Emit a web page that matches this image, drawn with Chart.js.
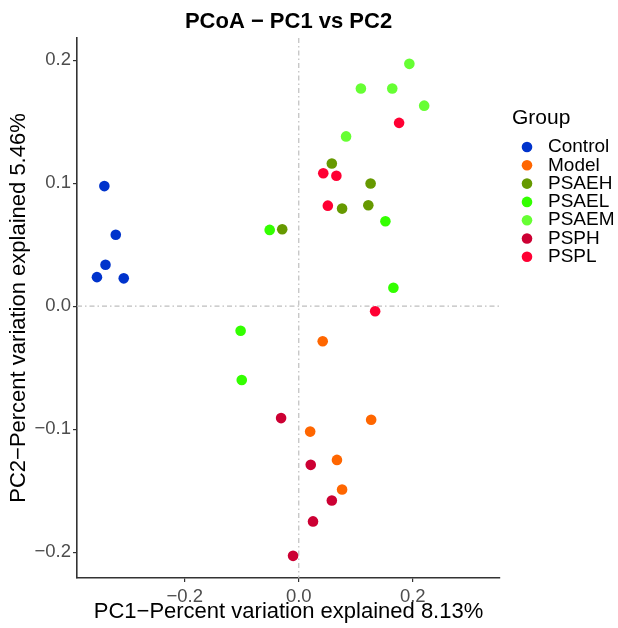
<!DOCTYPE html>
<html><head><meta charset="utf-8">
<script src="https://cdn.jsdelivr.net/npm/chart.js@4"></script>
<style>html,body{margin:0;padding:0;background:#fff}</style>
</head><body>
<canvas id="c" width="618" height="628"></canvas>
<script>
const chartTitle = "PCoA \u2212 PC1 vs PC2";
const xAxisTitle = "PC1\u2212Percent variation explained 8.13%";
const yAxisTitle = "PC2\u2212Percent variation explained 5.46%";
const legendTitle = "Group";
const groups = ["Control","Model","PSAEH","PSAEL","PSAEM","PSPH","PSPL"];
const groupColors = ["#0033CC","#FF6600","#669900","#33FF00","#66FF33","#CC0033","#FF0033"];
const xTickValues = [-0.2, 0.0, 0.2];
const yTickValues = [-0.2, -0.1, 0.0, 0.1, 0.2];

const controlX = [-0.341, -0.321, -0.339, -0.354, -0.307];
const controlY = [0.0976, 0.0581, 0.0336, 0.0236, 0.0226];
const modelX = [0.042, 0.127, 0.020, 0.067, 0.076];
const modelY = [-0.0285, -0.0923, -0.102, -0.125, -0.149];
const psaehX = [-0.029, 0.058, 0.126, 0.076, 0.122];
const psaehY = [0.0625, 0.116, 0.0997, 0.0793, 0.082];
const psaelX = [-0.051, -0.102, -0.100, 0.152, 0.166];
const psaelY = [0.062, -0.020, -0.060, 0.069, 0.015];
const psaemX = [0.194, 0.109, 0.164, 0.220, 0.083];
const psaemY = [0.197, 0.177, 0.177, 0.163, 0.138];
const psphX = [-0.031, 0.021, 0.058, 0.025, -0.010];
const psphY = [-0.091, -0.129, -0.158, -0.175, -0.203];
const psplX = [0.176, 0.043, 0.066, 0.051, 0.134];
const psplY = [0.149, 0.108, 0.106, 0.0817, -0.0041];

const seriesX = [controlX, modelX, psaehX, psaelX, psaemX, psphX, psplX];
const seriesY = [controlY, modelY, psaehY, psaelY, psaemY, psphY, psplY];

const FONT = "'Liberation Sans', Arial, Helvetica, sans-serif";
const fmt = v => { const s = Math.abs(v).toFixed(1); return v < -1e-9 ? "\u2212" + s : s; };

const datasets = groups.map((g, i) => ({
  label: g,
  data: seriesX[i].map((x, j) => ({x: x, y: seriesY[i][j]})),
  backgroundColor: groupColors[i],
  borderWidth: 0,
  pointRadius: 5.3,
  pointHoverRadius: 5.3
}));

const refLines = {
  id: 'refLines',
  beforeDatasetsDraw(chart) {
    const {ctx, chartArea: a, scales: {x, y}} = chart;
    ctx.save();
    ctx.strokeStyle = '#BEBEBE';
    ctx.lineWidth = 1.2;
    ctx.setLineDash([5, 3, 1.5, 3]);
    const px = x.getPixelForValue(0), py = y.getPixelForValue(0);
    ctx.beginPath(); ctx.moveTo(px, a.top); ctx.lineTo(px, a.bottom); ctx.stroke();
    ctx.beginPath(); ctx.moveTo(a.left, py); ctx.lineTo(a.right, py); ctx.stroke();
    ctx.restore();
  }
};

const titleLegend = {
  id: 'titleLegend',
  afterDraw(chart) {
    const {ctx, chartArea: a} = chart;
    ctx.save();
    ctx.fillStyle = '#000';
    ctx.font = "bold 22px " + FONT;
    ctx.textAlign = 'center'; ctx.textBaseline = 'middle';
    ctx.fillText(chartTitle, (a.left + a.right) / 2, 22);
    ctx.textAlign = 'left';
    ctx.font = "21px " + FONT;
    ctx.fillText(legendTitle, 512, 118);
    ctx.font = "19px " + FONT;
    groups.forEach((g, i) => {
      const yy = 147 + i * 18.3;
      ctx.fillStyle = groupColors[i];
      ctx.beginPath(); ctx.arc(527, yy, 5.3, 0, Math.PI * 2); ctx.fill();
      ctx.fillStyle = '#000';
      ctx.fillText(g, 548, yy);
    });
    ctx.restore();
  }
};

new Chart(document.getElementById('c'), {
  type: 'scatter',
  data: { datasets },
  options: {
    responsive: false,
    animation: false,
    devicePixelRatio: 1,
    layout: { padding: { top: 38, right: 118, left: 0, bottom: 0 } },
    plugins: { legend: { display: false }, tooltip: { enabled: false }, title: { display: false } },
    scales: {
      x: {
        type: 'linear', position: 'bottom', min: -0.389, max: 0.353,
        afterBuildTicks: s => { s.ticks = xTickValues.map(v => ({value: v})); },
        afterFit: s => { s.height = 50; },
        ticks: { callback: v => fmt(v), font: { size: 18.5, family: FONT }, color: '#4D4D4D', padding: 4, maxRotation: 0, autoSkip: false },
        grid: { drawOnChartArea: false, drawTicks: true, tickLength: 4, color: '#333333', lineWidth: 1.2 },
        border: { display: true, color: '#333333', width: 1.6 },
        title: { display: true, text: xAxisTitle, color: '#000', font: { size: 22, family: FONT }, padding: { top: 0, bottom: 3 } }
      },
      y: {
        type: 'linear', position: 'left', min: -0.221, max: 0.218,
        afterBuildTicks: s => { s.ticks = yTickValues.map(v => ({value: v})); },
        afterFit: s => { s.width = 77; },
        ticks: { callback: v => fmt(v), font: { size: 18.5, family: FONT }, color: '#4D4D4D', padding: 2, autoSkip: false },
        grid: { drawOnChartArea: false, drawTicks: true, tickLength: 4, color: '#333333', lineWidth: 1.2 },
        border: { display: true, color: '#333333', width: 1.6 },
        title: { display: true, text: yAxisTitle, color: '#000', font: { size: 22, family: FONT }, padding: { top: 6, bottom: 0 } }
      }
    }
  },
  plugins: [refLines, titleLegend]
});
</script>
</body></html>
